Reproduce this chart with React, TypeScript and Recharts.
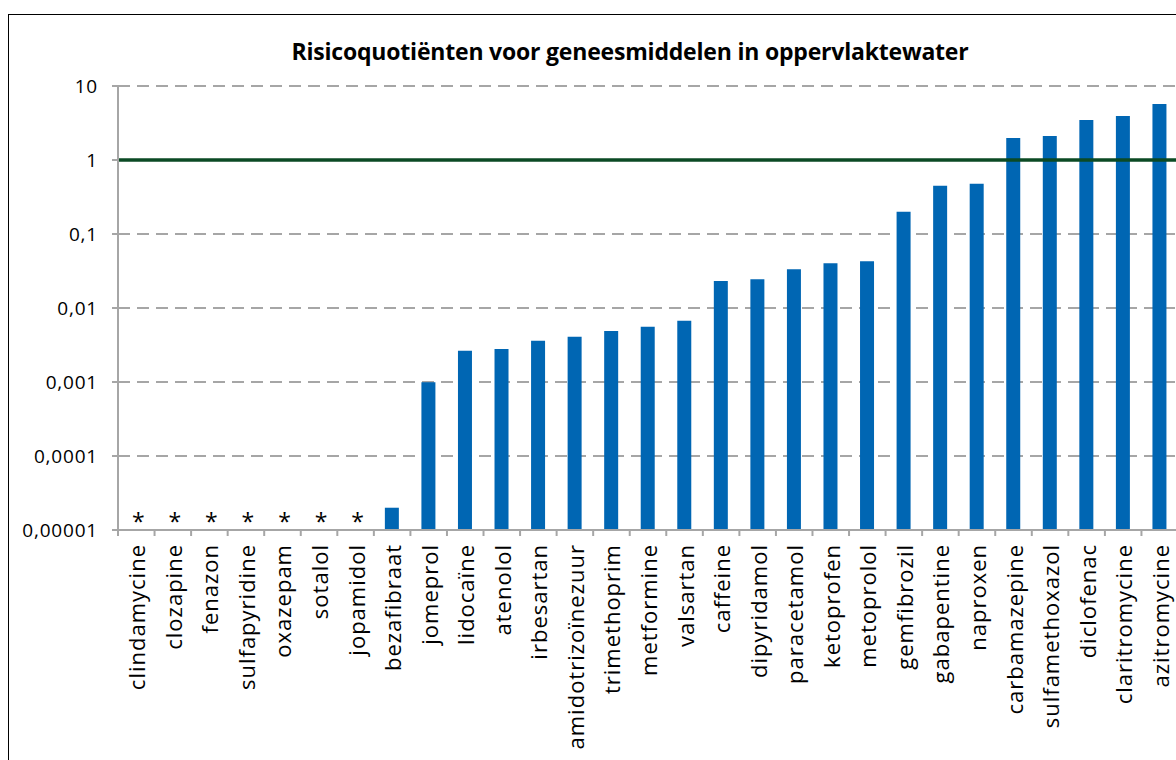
import React from "react";
import { ComposedChart, Bar, Scatter, XAxis, YAxis, CartesianGrid, ReferenceLine } from "recharts";

// geneesmiddelen, gesorteerd op risicoquotiënt
const medicines = [
  "clindamycine", "clozapine", "fenazon", "sulfapyridine", "oxazepam", "sotalol", "jopamidol",
  "bezafibraat", "jomeprol", "lidocaïne", "atenolol", "irbesartan", "amidotrizoïnezuur",
  "trimethoprim", "metformine", "valsartan", "caffeine", "dipyridamol", "paracetamol",
  "ketoprofen", "metoprolol", "gemfibrozil", "gabapentine", "naproxen", "carbamazepine",
  "sulfamethoxazol", "diclofenac", "claritromycine", "azitromycine",
];

// null = niet bepaald (*)
const riskQuotients: (number | null)[] = [
  null, null, null, null, null, null, null,
  0.00002, 0.00099, 0.00265, 0.0028, 0.0036, 0.0041,
  0.0049, 0.0056, 0.0067, 0.0232, 0.0244, 0.0333,
  0.0402, 0.0428, 0.2, 0.45, 0.478, 1.98,
  2.11, 3.47, 3.93, 5.71,
];

const yTicks = [0.00001, 0.0001, 0.001, 0.01, 0.1, 1, 10];
const threshold = 1;

const BAR_COLOR = "#0066B3";
const GRID_COLOR = "#a6a6a6";
const FONT = "'Open Sans', sans-serif";

const CHART_W = 1200;
const CHART_H = 760;
const PLOT_LEFT = 118;
const PLOT_RIGHT = 1178;
const PLOT_BOTTOM = 530;
const BAND = (PLOT_RIGHT - PLOT_LEFT) / medicines.length;

const data = medicines.map((name, i) => ({
  name,
  rq: riskQuotients[i],
  star: riskQuotients[i] == null ? yTicks[0] : null,
}));

const formatTick = (v: number) => String(v).replace(".", ",");

const CategoryTick = (props: any) => {
  const { x, payload } = props;
  return (
    <g>
      <line x1={x - BAND / 2} x2={x - BAND / 2} y1={PLOT_BOTTOM} y2={PLOT_BOTTOM + 6} stroke={GRID_COLOR} strokeWidth={2} />
      <text
        transform={`translate(${x},${PLOT_BOTTOM + 14}) rotate(-90)`}
        textAnchor="end"
        dominantBaseline="central"
        fontSize={22}
        letterSpacing={1}
        fontFamily={FONT}
        fill="#000"
      >
        {payload.value}
      </text>
    </g>
  );
};

const Star = (props: any) => {
  const { cx, cy } = props;
  if (cx == null || cy == null) return null;
  return (
    <text x={cx + 2} y={cy} textAnchor="middle" fontSize={23} fontFamily={FONT} fill="#000">
      *
    </text>
  );
};

export default function App() {
  return (
    <div style={{ position: "fixed", left: 0, top: 0, width: 1176, height: 760, overflow: "hidden", background: "#fff" }}>
      <div style={{ position: "absolute", left: 8, top: 14, width: 1300, height: 800, border: "1px solid #000", boxSizing: "border-box" }} />
      <div
        style={{
          position: "absolute",
          left: 0,
          top: 38,
          width: 1260,
          textAlign: "center",
          fontFamily: FONT,
          fontWeight: 700,
          fontSize: 23,
          lineHeight: "26px",
          letterSpacing: -0.2,
          color: "#000",
        }}
      >
        Risicoquotiënten voor geneesmiddelen in oppervlaktewater
      </div>
      <div style={{ position: "absolute", left: 0, top: 0 }}>
        <ComposedChart
          width={CHART_W}
          height={CHART_H}
          data={data}
          margin={{ top: 86, right: CHART_W - PLOT_RIGHT, left: PLOT_LEFT - 70, bottom: 10 }}
          barCategoryGap="61%"
        >
          <CartesianGrid vertical={false} stroke={GRID_COLOR} strokeWidth={2} strokeDasharray="12 7" />
          <XAxis
            dataKey="name"
            type="category"
            interval={0}
            height={220}
            tickLine={false}
            axisLine={{ stroke: GRID_COLOR, strokeWidth: 2 }}
            tick={<CategoryTick />}
          />
          <YAxis
            scale="log"
            domain={[yTicks[0], yTicks[yTicks.length - 1]]}
            allowDataOverflow
            ticks={yTicks}
            interval={0}
            width={70}
            tickFormatter={formatTick}
            tickSize={6}
            tickMargin={14}
            tickLine={{ stroke: GRID_COLOR, strokeWidth: 2 }}
            axisLine={{ stroke: GRID_COLOR, strokeWidth: 2 }}
            tick={{ fill: "#000", fontSize: 19, fontFamily: FONT, letterSpacing: 0.8 }}
          />
          <Bar dataKey="rq" fill={BAR_COLOR} barSize={14} isAnimationActive={false} />
          <Scatter dataKey="star" shape={<Star />} isAnimationActive={false} />
          <ReferenceLine y={threshold} stroke="#0b4a24" strokeWidth={3.5} />
        </ComposedChart>
      </div>
    </div>
  );
}
